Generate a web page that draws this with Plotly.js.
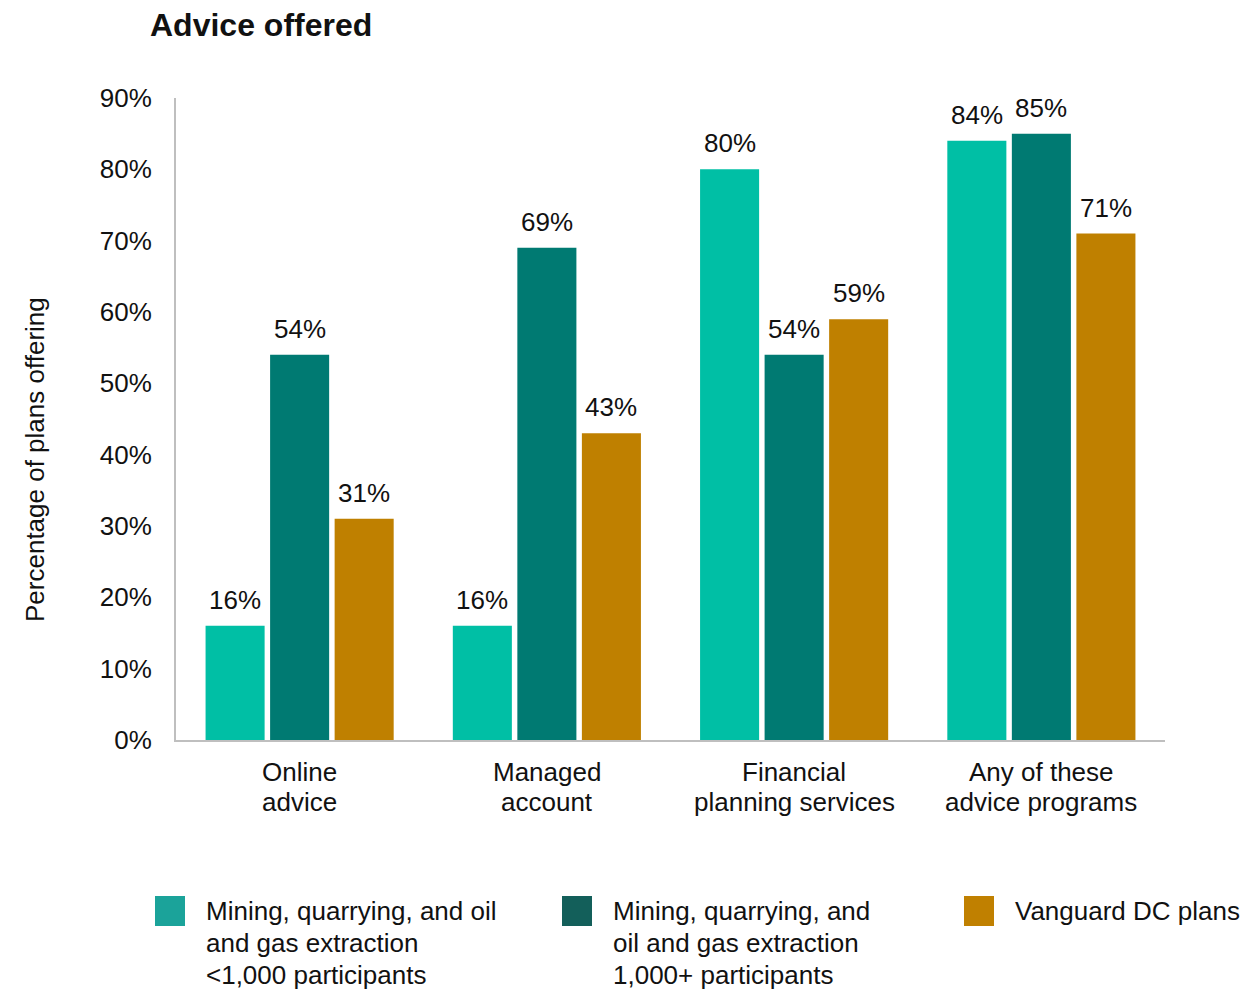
<!DOCTYPE html>
<html>
<head>
<meta charset="utf-8">
<script src="https://cdn.plot.ly/plotly-3.0.1.min.js"></script>
<style>html,body{margin:0;padding:0;background:#fff;}#chart{width:1249px;height:991px;}</style>
</head>
<body>
<div id="chart"></div>
<script>
const categories = ["Online<br>advice", "Managed<br>account", "Financial<br>planning services", "Any of these<br>advice programs"];
const seriesNames = [
  "Mining, quarrying, and oil<br>and gas extraction<br>&lt;1,000 participants",
  "Mining, quarrying, and<br>oil and gas extraction<br>1,000+ participants",
  "Vanguard DC plans"
];
const smallPlans = [16, 16, 80, 84];
const largePlans = [54, 69, 54, 85];
const vanguardPlans = [31, 43, 59, 71];
const yTicks = [0, 10, 20, 30, 40, 50, 60, 70, 80, 90];

const barColors = ["#00BFA5", "#007A72", "#BF8000"];
const legendColors = ["#1BA39A", "#135F5A", "#C08000"];
const FONT = "Liberation Sans, Arial, sans-serif";
const TXT = "#111";

// plot area in pixels
const L = 176, R = 1165, T = 98, B = 740;
const px = x => (x - L) / (R - L);
const py = y => (B - y) / (B - T);

const values = [smallPlans, largePlans, vanguardPlans];
const traces = values.map((v, i) => ({
  type: "bar",
  x: categories,
  y: v,
  name: seriesNames[i],
  marker: {color: barColors[i]},
  showlegend: false,
  hoverinfo: "skip"
}));

const annotations = [];
// value labels above bars
const slot = 64.5;
values.forEach((v, i) => {
  v.forEach((val, j) => {
    annotations.push({
      xref: "x", yref: "y", x: categories[j], y: val,
      xshift: (i - 1) * slot, yshift: 9,
      xanchor: "center", yanchor: "bottom",
      text: val + "%", showarrow: false,
      font: {family: FONT, size: 26, color: TXT}
    });
  });
});
// category labels (one annotation per line for tighter line spacing)
categories.forEach(c => {
  c.split("<br>").forEach((line, k) => {
    annotations.push({
      xref: "x", yref: "paper", x: c, y: py(772 + 30 * k),
      xanchor: "center", yanchor: "middle",
      text: line, showarrow: false,
      font: {family: FONT, size: 26, color: TXT}
    });
  });
});
// legend
const legendX = [155, 562, 964];
const shapes = legendX.map((x, i) => ({
  type: "rect", xref: "paper", yref: "paper",
  x0: px(x), x1: px(x + 30), y0: py(926), y1: py(896),
  fillcolor: legendColors[i], line: {width: 0}
}));
legendX.forEach((x, i) => {
  seriesNames[i].split("<br>").forEach((line, k) => {
    annotations.push({
      xref: "paper", yref: "paper",
      x: px(x + 49), y: py(911 + 32 * k), xanchor: "left", yanchor: "middle",
      text: line, showarrow: false,
      font: {family: FONT, size: 26, color: TXT}
    });
  });
});
// y-axis title
annotations.push({
  xref: "paper", yref: "paper",
  x: px(35), y: py(460), xanchor: "center", yanchor: "middle",
  textangle: -90, text: "Percentage of plans offering", showarrow: false,
  font: {family: FONT, size: 26, color: TXT}
});

const layout = {
  width: 1249, height: 991,
  margin: {l: L, r: 1249 - R, t: T, b: 991 - B, pad: 0},
  paper_bgcolor: "#fff", plot_bgcolor: "#fff",
  font: {family: FONT, size: 26, color: TXT},
  title: {
    text: "<b>Advice offered</b>",
    font: {family: FONT, size: 32, color: TXT},
    xref: "container", yref: "container",
    x: 150 / 1249, xanchor: "left", y: 1 - 25 / 991, yanchor: "middle"
  },
  barmode: "group",
  bargap: 0.217,
  bargroupgap: 0.085,
  xaxis: {
    showline: true, linecolor: "#BFBFBF", linewidth: 2,
    showgrid: false, zeroline: false,
    showticklabels: false, ticks: "",
    fixedrange: true
  },
  yaxis: {
    range: [0, 90],
    tickvals: yTicks,
    ticktext: yTicks.map(t => t + "%"),
    showline: true, linecolor: "#BFBFBF", linewidth: 2,
    showgrid: false, zeroline: false,
    ticks: "outside", ticklen: 17, tickcolor: "rgba(0,0,0,0)",
    tickfont: {family: FONT, size: 26, color: TXT},
    fixedrange: true
  },
  shapes: shapes,
  annotations: annotations,
  showlegend: false
};

Plotly.newPlot("chart", traces, layout, {displayModeBar: false, staticPlot: true});
</script>
</body>
</html>
